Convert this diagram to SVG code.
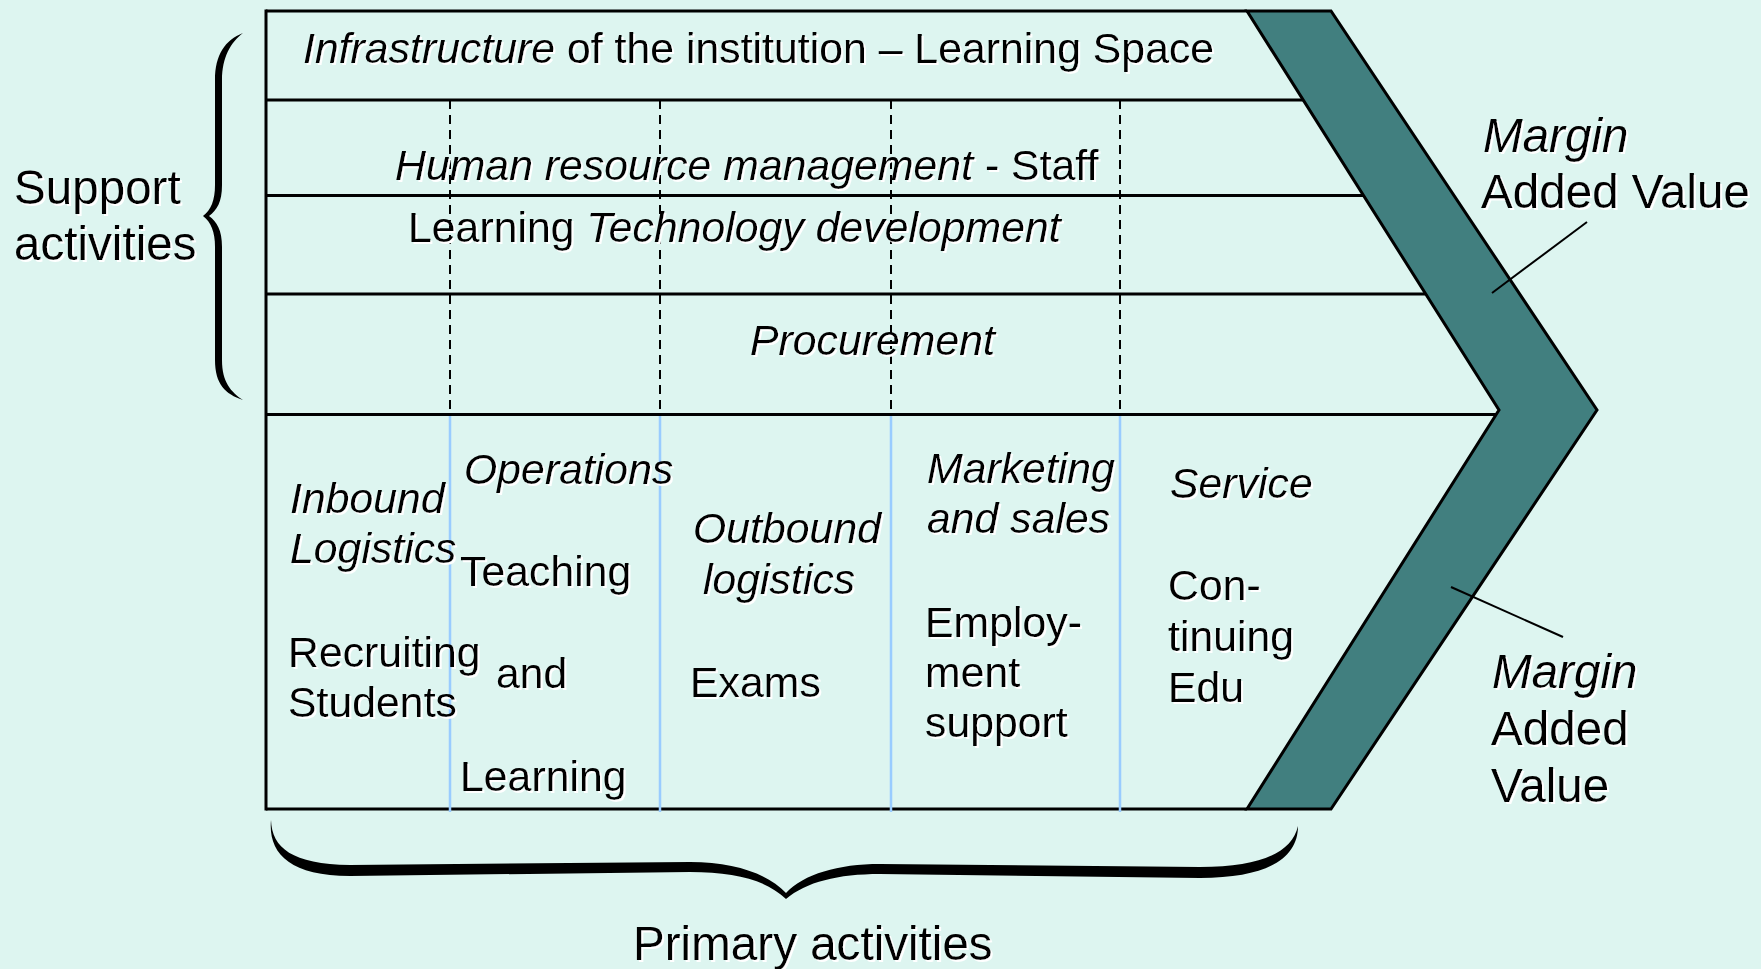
<svg xmlns="http://www.w3.org/2000/svg" width="1761" height="969" viewBox="0 0 1761 969">
  <defs>
    <filter id="sh" x="-5%" y="-20%" width="110%" height="150%">
      <feOffset in="SourceAlpha" dx="1.5" dy="1.5" result="o"/>
      <feFlood flood-color="#ffffff"/>
      <feComposite in2="o" operator="in" result="w"/>
      <feMerge><feMergeNode in="w"/><feMergeNode in="SourceGraphic"/></feMerge>
    </filter>
    <style>
      text { font-family: "Liberation Sans", Arial, sans-serif; fill: #000; }
      .t { font-size: 42.8px; filter: url(#sh); }
      .big { font-size: 47.6px; filter: url(#sh); }
      .i { font-style: italic; }
      .frame { stroke: #000; stroke-width: 3; fill: none; }
      .dash { stroke: #000; stroke-width: 2; stroke-dasharray: 9 6; fill: none; }
      .blue { stroke: #99CCFF; stroke-width: 2.5; fill: none; }
      .lead { stroke: #000; stroke-width: 2; fill: none; }
    </style>
  </defs>

  <rect x="0" y="0" width="1761" height="969" fill="#DDF5F0"/>

  <!-- frame -->
  <g id="frame">
    <line class="frame" x1="266" y1="11" x2="1247" y2="11"/>
    <line class="frame" x1="266" y1="100" x2="1303" y2="100"/>
    <line class="frame" x1="266" y1="195.5" x2="1363" y2="195.5"/>
    <line class="frame" x1="266" y1="294" x2="1425" y2="294"/>
    <line class="frame" x1="266" y1="414.5" x2="1499" y2="414.5"/>
    <line class="frame" x1="266" y1="809" x2="1247" y2="809"/>
    <line class="frame" x1="266" y1="9.5" x2="266" y2="810.5"/>
    <line class="dash" x1="450" y1="100" x2="450" y2="414"/>
    <line class="dash" x1="660" y1="100" x2="660" y2="414"/>
    <line class="dash" x1="891" y1="100" x2="891" y2="414"/>
    <line class="dash" x1="1120" y1="100" x2="1120" y2="414"/>
    <line class="blue" x1="450" y1="416" x2="450" y2="812"/>
    <line class="blue" x1="660" y1="416" x2="660" y2="812"/>
    <line class="blue" x1="891" y1="416" x2="891" y2="812"/>
    <line class="blue" x1="1120" y1="416" x2="1120" y2="812"/>
  </g>

  <!-- margin chevron -->
  <g id="margin-chevron">
    <polygon points="1247,11 1331,11 1597,410 1331,809 1247,809 1499,410" fill="#417F7F" stroke="#000" stroke-width="3" stroke-linejoin="miter"/>
  </g>

  <!-- braces -->
  <g id="support-brace">
    <path d="M243 33 C225 40 215 55 215 80 L215 185 C215 200 211 210 203 216 C211 222 215 232 215 247 L215 360 C215 384 225 394 243 400 C231 392 222 382 222 360 L222 247 C222 230 217 222 209 216 C217 210 222 202 222 185 L222 80 C222 57 231 42 243 33 Z" fill="#000"/>
  </g>
  <g id="primary-brace">
    <path d="M271 820 C272 848 292 864 350 865 L690 862 C735 862 768 874 786 893 C804 874 838 864 880 864 L1200 867 C1262 867 1292 852 1298 826 C1298 858 1268 878 1200 878 L880 874 C838 874 806 882 786 899 C766 880 735 872 690 872 L350 876 C288 876 268 852 271 820 Z" fill="#000"/>
  </g>

  <!-- support activity rows -->
  <g id="infrastructure">
    <text class="t" x="303" y="63"><tspan class="i">Infrastructure</tspan> of the institution – Learning Space</text>
  </g>
  <g id="hrm">
    <text class="t" x="395" y="180"><tspan class="i">Human resource management</tspan> - Staff</text>
  </g>
  <g id="technology">
    <text class="t" x="408" y="242">Learning <tspan class="i">Technology development</tspan></text>
  </g>
  <g id="procurement">
    <text class="t i" x="750" y="355">Procurement</text>
  </g>

  <!-- primary activities -->
  <g id="inbound">
    <text class="t i" x="290" y="513">Inbound</text>
    <text class="t i" x="290" y="563">Logistics</text>
    <text class="t" x="288" y="667">Recruiting</text>
    <text class="t" x="288" y="717">Students</text>
  </g>
  <g id="operations">
    <text class="t i" x="464" y="484">Operations</text>
    <text class="t" x="460" y="586">Teaching</text>
    <text class="t" x="496" y="688">and</text>
    <text class="t" x="460" y="791">Learning</text>
  </g>
  <g id="outbound">
    <text class="t i" x="693" y="543">Outbound</text>
    <text class="t i" x="703" y="594">logistics</text>
    <text class="t" x="690" y="697">Exams</text>
  </g>
  <g id="marketing">
    <text class="t i" x="927" y="483">Marketing</text>
    <text class="t i" x="927" y="533">and sales</text>
    <text class="t" x="925" y="637">Employ-</text>
    <text class="t" x="925" y="687">ment</text>
    <text class="t" x="925" y="737">support</text>
  </g>
  <g id="service">
    <text class="t i" x="1170" y="498">Service</text>
    <text class="t" x="1168" y="600">Con-</text>
    <text class="t" x="1168" y="651">tinuing</text>
    <text class="t" x="1168" y="702">Edu</text>
  </g>

  <!-- outer labels -->
  <g id="support-label">
    <text class="big" x="14" y="204">Support</text>
    <text class="big" x="14" y="260">activities</text>
  </g>
  <g id="primary-label">
    <text class="big" x="633" y="960">Primary activities</text>
  </g>
  <g id="margin-top">
    <text class="big i" x="1483" y="152">Margin</text>
    <text class="big" x="1481" y="208">Added Value</text>
  </g>
  <g id="margin-bottom">
    <text class="big i" x="1492" y="688">Margin</text>
    <text class="big" x="1491" y="745">Added</text>
    <text class="big" x="1491" y="802">Value</text>
  </g>

  <!-- connectors -->
  <g id="connectors">
    <line class="lead" x1="1587" y1="222" x2="1492" y2="293"/>
    <line class="lead" x1="1451" y1="587" x2="1563" y2="637"/>
  </g>
</svg>
